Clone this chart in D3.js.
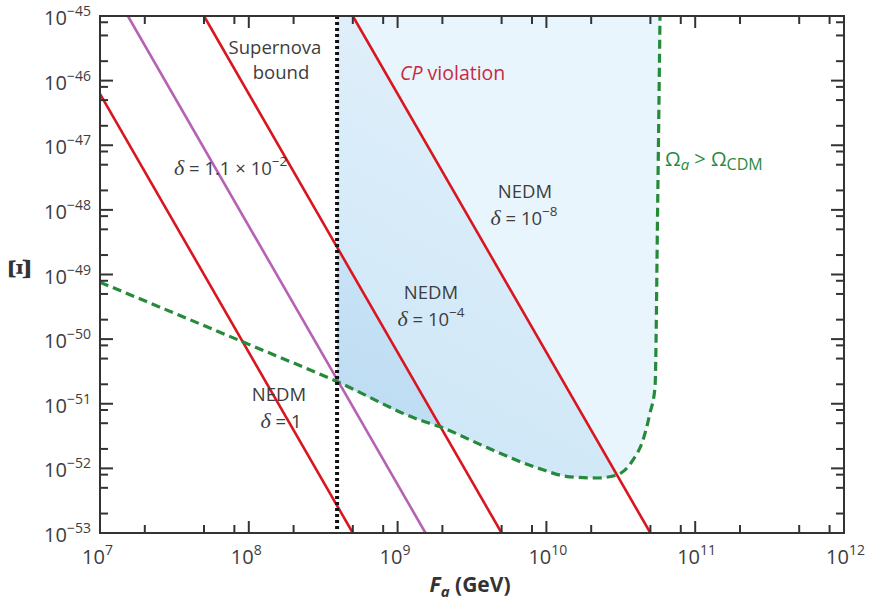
<!DOCTYPE html>
<html>
<head>
<meta charset="utf-8">
<script src="https://cdn.jsdelivr.net/npm/d3@7"></script>
<style>
  html, body { margin: 0; padding: 0; background: #fff; }
  svg { display: block; font-family: "Open Sans", "Noto Sans", sans-serif; }
</style>
</head>
<body>
<svg id="chart" width="869" height="608"></svg>
<script>
// Axis decades and minor tick multipliers
const faDecades = [1e7, 1e8, 1e9, 1e10, 1e11, 1e12];
const faExponents = ["7", "8", "9", "10", "11", "12"];
const xiDecades = [1e-53, 1e-52, 1e-51, 1e-50, 1e-49, 1e-48, 1e-47, 1e-46, 1e-45];
const xiExponents = ["\u221253", "\u221252", "\u221251", "\u221250", "\u221249", "\u221248", "\u221247", "\u221246", "\u221245"];
const minorMultipliers = [2, 5, 8];

// NEDM constraint lines: endpoints (Fa, Xi) of each straight log-log line
const nedmNames = ["delta1", "delta1.1e-2", "delta1e-4", "delta1e-8"];
const nedmFa = [[1e7, 5e8], [1.54e7, 1.54e9], [5e7, 5e9], [5e8, 5e10]];
const nedmXi = [[6.25e-47, 1e-53], [1e-45, 1e-53], [1e-45, 1e-53], [1e-45, 1e-53]];
const nedmColor = ["#d9161f", "#b562b5", "#d9161f", "#d9161f"];

// Supernova bound on Fa
const supernovaFa = 3.92e8;

// Dark-matter overproduction boundary (Omega_a > Omega_CDM)
const cdmFa = [1e7, 1e8, 3.92e8, 1.41e9, 1.93e9, 3.99e9, 8.65e9, 1.44e10, 2.19e10, 2.98e10, 3.82e10, 4.46e10, 4.97e10, 5.37e10, 5.6e10, 5.8e10];
const cdmXi = [7.6e-50, 8.3e-51, 2.2e-51, 5.6e-52, 4.4e-52, 2.1e-52, 1.02e-52, 7.4e-53, 7.1e-53, 7.9e-53, 1.35e-52, 2.75e-52, 7.2e-52, 1.8e-51, 1.4e-48, 1e-45];

const svg = d3.select("#chart");
const pL = 100, pR = 844, pT = 16, pB = 533;

const x = d3.scaleLog().domain([1e7, 1e12]).range([pL, pR]);
const y = d3.scaleLog().domain([1e-53, 1e-45]).range([pB, pT]);

const textColor = "#3d3d3d";
const axisColor = "#333";

const defs = svg.append("defs");
defs.append("clipPath").attr("id", "plotClip")
  .append("rect").attr("x", pL).attr("y", pT).attr("width", pR - pL).attr("height", pB - pT);

// Clip regions to the left of a given NEDM line
function leftOfLine(i, id) {
  const pts = [
    [pL, y(1e-45)], [x(nedmFa[i][0]), y(nedmXi[i][0])],
    [x(nedmFa[i][1]), y(nedmXi[i][1])], [pL, pB]
  ];
  defs.append("clipPath").attr("id", id)
    .append("path").attr("d", "M" + pts.join("L") + "Z");
}
leftOfLine(3, "leftOf8");
leftOfLine(2, "leftOf4");

const corner = [x(supernovaFa), y(2.2e-51)];
const g1 = defs.append("linearGradient").attr("id", "gradMid").attr("gradientUnits", "userSpaceOnUse")
  .attr("x1", corner[0]).attr("y1", corner[1]).attr("x2", corner[0] + 200).attr("y2", pT);
g1.append("stop").attr("offset", 0).attr("stop-color", "#cfe7f7");
g1.append("stop").attr("offset", 1).attr("stop-color", "#e3f1fb");
const g2 = defs.append("linearGradient").attr("id", "gradInner").attr("gradientUnits", "userSpaceOnUse")
  .attr("x1", corner[0]).attr("y1", corner[1]).attr("x2", corner[0] + 100).attr("y2", pT + 60);
g2.append("stop").attr("offset", 0).attr("stop-color", "#bfddf3");
g2.append("stop").attr("offset", 1).attr("stop-color", "#d8ecf9");

// Allowed region: right of supernova bound, above the CDM boundary
const cdmPts = cdmFa.map((f, i) => [x(f), y(cdmXi[i])]);
const regionPts = cdmPts.filter((p, i) => cdmFa[i] >= supernovaFa);
const curveLine = d3.line().curve(d3.curveMonotoneX);
const regionPath = curveLine(regionPts) + "L" + x(supernovaFa) + "," + pT + "Z";

const plot = svg.append("g").attr("clip-path", "url(#plotClip)");
plot.append("path").attr("d", regionPath).attr("fill", "#e9f5fd");
plot.append("path").attr("d", regionPath).attr("fill", "url(#gradMid)").attr("clip-path", "url(#leftOf8)");
plot.append("path").attr("d", regionPath).attr("fill", "url(#gradInner)").attr("clip-path", "url(#leftOf4)");

// NEDM lines
nedmNames.forEach((n, i) => {
  plot.append("path")
    .attr("d", d3.line()([[x(nedmFa[i][0]), y(nedmXi[i][0])], [x(nedmFa[i][1]), y(nedmXi[i][1])]]))
    .attr("stroke", nedmColor[i]).attr("stroke-width", 2.6).attr("fill", "none");
});

// CDM boundary
plot.append("path").attr("d", curveLine(cdmPts))
  .attr("fill", "none").attr("stroke", "#268a3b").attr("stroke-width", 3.2)
  .attr("stroke-dasharray", "9,5");

// Supernova bound
plot.append("line")
  .attr("x1", x(supernovaFa)).attr("x2", x(supernovaFa)).attr("y1", pT).attr("y2", pB)
  .attr("stroke", "#111").attr("stroke-width", 4).attr("stroke-dasharray", "3,3");

// Ticks
function minorOf(decades) {
  const out = [];
  decades.slice(0, -1).forEach(d => minorMultipliers.forEach(m => out.push(d * m)));
  return out;
}
const axes = svg.append("g").attr("stroke", axisColor).attr("stroke-width", 2);
const faMinor = minorOf(faDecades), xiMinor = minorOf(xiDecades);
faDecades.forEach(v => {
  axes.append("line").attr("x1", x(v)).attr("x2", x(v)).attr("y1", pB).attr("y2", pB - 12);
  axes.append("line").attr("x1", x(v)).attr("x2", x(v)).attr("y1", pT).attr("y2", pT + 12);
});
faMinor.forEach(v => {
  axes.append("line").attr("x1", x(v)).attr("x2", x(v)).attr("y1", pB).attr("y2", pB - 8);
  axes.append("line").attr("x1", x(v)).attr("x2", x(v)).attr("y1", pT).attr("y2", pT + 8);
});
xiDecades.forEach(v => {
  axes.append("line").attr("y1", y(v)).attr("y2", y(v)).attr("x1", pL).attr("x2", pL + 13);
  axes.append("line").attr("y1", y(v)).attr("y2", y(v)).attr("x1", pR).attr("x2", pR - 13);
});
xiMinor.forEach(v => {
  axes.append("line").attr("y1", y(v)).attr("y2", y(v)).attr("x1", pL).attr("x2", pL + 8);
  axes.append("line").attr("y1", y(v)).attr("y2", y(v)).attr("x1", pR).attr("x2", pR - 8);
});
axes.append("rect").attr("x", pL).attr("y", pT).attr("width", pR - pL).attr("height", pB - pT)
  .attr("fill", "none");

// Tick labels
const tickFont = 20, expFont = 14;
faDecades.forEach((v, i) => {
  const t = svg.append("text").attr("x", x(v) - 18).attr("y", 564)
    .attr("fill", textColor).attr("font-size", tickFont);
  t.append("tspan").text("10");
  t.append("tspan").attr("dy", -9).attr("font-size", expFont).text(faExponents[i]);
});
xiDecades.forEach((v, i) => {
  const t = svg.append("text").attr("x", 91).attr("y", y(v) + 9).attr("text-anchor", "end")
    .attr("fill", textColor).attr("font-size", tickFont);
  t.append("tspan").text("10");
  t.append("tspan").attr("dy", -9).attr("font-size", expFont).text(xiExponents[i]);
});

// Axis titles
const xt = svg.append("text").attr("x", 470).attr("y", 592).attr("text-anchor", "middle")
  .attr("fill", "#333").attr("font-size", 21).attr("font-weight", "bold");
xt.append("tspan").attr("font-style", "italic").text("F");
xt.append("tspan").attr("font-style", "italic").attr("font-size", 15).attr("dy", 5).text("a");
xt.append("tspan").attr("dy", -5).text(" (GeV)");
svg.append("text").attr("transform", "translate(30,269) rotate(-90)").attr("text-anchor", "middle")
  .attr("fill", "#333").attr("font-family", "Liberation Serif, serif")
  .attr("font-size", 32).attr("font-weight", "bold").text("\u039E");

// Annotations
const ann = svg.append("g").attr("font-size", 18.5).attr("fill", textColor);
function label(xp, yp, txt, anchor) {
  return ann.append("text").attr("x", xp).attr("y", yp).attr("text-anchor", anchor || "middle").text(txt);
}
function deltaLabel(xp, yp, base, exp, anchor) {
  const t = ann.append("text").attr("x", xp).attr("y", yp).attr("text-anchor", anchor || "middle");
  t.append("tspan").attr("font-family", "Liberation Serif, serif").attr("font-style", "italic")
    .attr("font-size", 22).text("\u03B4");
  t.append("tspan").text(" = " + base);
  if (exp) t.append("tspan").attr("dy", -9).attr("font-size", 13.5).text(exp);
  return t;
}
label(275, 54, "Supernova");
label(281, 79, "bound");

const cp = ann.append("text").attr("x", 400).attr("y", 80).attr("fill", "#c8283e").attr("font-size", 19.5);
cp.append("tspan").attr("font-style", "italic").text("CP");
cp.append("tspan").text(" violation");

deltaLabel(174, 175, "1.1 \u00D7 10", "\u22122", "start");
label(525, 198, "NEDM");
deltaLabel(524, 225, "10", "\u22128");
label(431, 299, "NEDM");
deltaLabel(431, 326, "10", "\u22124");
label(279, 401, "NEDM");
deltaLabel(281, 428, "1");

const om = ann.append("text").attr("x", 665).attr("y", 166).attr("fill", "#2b8a40").attr("font-size", 20);
om.append("tspan").text("\u03A9");
om.append("tspan").attr("font-style", "italic").attr("font-size", 15).attr("dy", 4).text("a");
om.append("tspan").attr("dy", -4).text(" > \u03A9");
om.append("tspan").attr("font-size", 16).attr("dy", 4).text("CDM");
</script>
</body>
</html>
